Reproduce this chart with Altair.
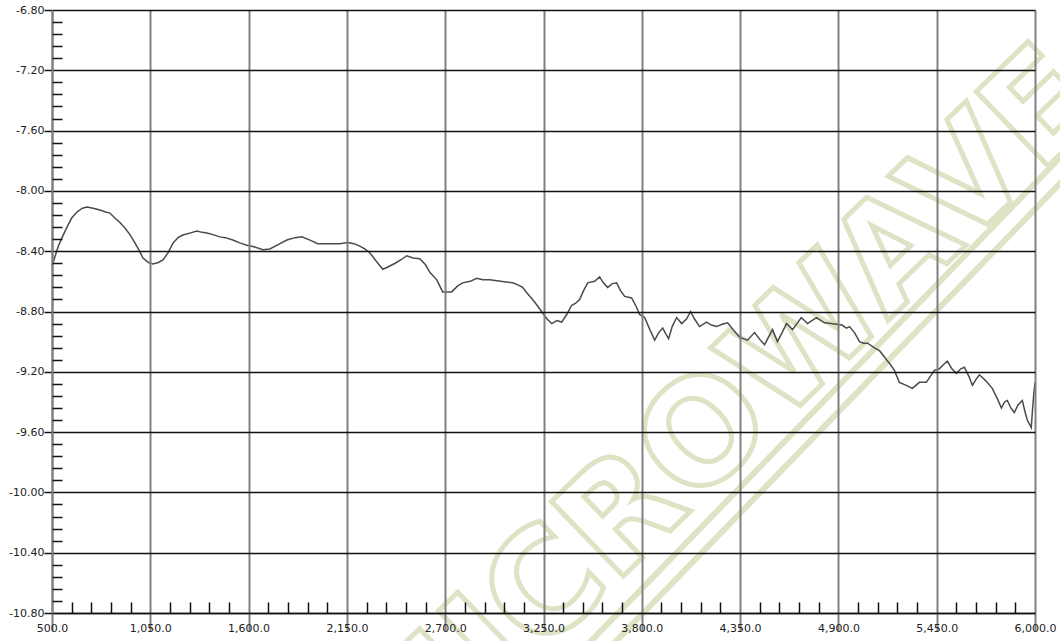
import altair as alt
import pandas as pd

# ---- data ----
freq = [500, 534, 560, 584, 610, 640, 670, 696, 730, 768, 800, 824, 852, 880, 908, 936, 964, 990,
        1009, 1040, 1065, 1095, 1121, 1150, 1177, 1205, 1232, 1270, 1311, 1340, 1367, 1400, 1439,
        1470, 1512, 1550, 1590, 1630, 1680, 1719, 1760, 1814, 1860, 1898, 1940, 1987, 2050, 2110,
        2155, 2190, 2222, 2250, 2278, 2310, 2351, 2379, 2420, 2455, 2485, 2520, 2558, 2590, 2614,
        2653, 2686, 2736, 2770, 2798, 2840, 2876, 2910, 2949, 3010, 3078, 3110, 3133, 3160, 3189,
        3215, 3245, 3270, 3296, 3325, 3352, 3380, 3407, 3430, 3452, 3475, 3497, 3536, 3564, 3585,
        3609, 3635, 3659, 3680, 3704, 3743, 3770, 3788, 3816, 3845, 3872, 3895, 3917, 3935, 3950,
        3970, 3995, 4023, 4050, 4073, 4095, 4123, 4162, 4190, 4218, 4250, 4280, 4310, 4347, 4391,
        4431, 4460, 4487, 4531, 4559, 4585, 4610, 4643, 4693, 4727, 4777, 4822, 4860, 4889, 4920,
        4945, 4962, 4990, 5018, 5040, 5063, 5100, 5130, 5150, 5169, 5190, 5213, 5241, 5280, 5314,
        5353, 5392, 5420, 5437, 5465, 5490, 5510, 5535, 5560, 5585, 5605, 5630, 5650, 5670, 5689,
        5725, 5761, 5790, 5812, 5830, 5845, 5865, 5884, 5905, 5929, 5945, 5957, 5979, 5985, 5993,
        6000]
value = [-8.50, -8.37, -8.30, -8.24, -8.18, -8.14, -8.115, -8.107, -8.115, -8.127, -8.14, -8.147,
         -8.18, -8.21, -8.246, -8.29, -8.345, -8.40, -8.445, -8.475, -8.485, -8.475, -8.458, -8.41,
         -8.346, -8.31, -8.293, -8.28, -8.266, -8.275, -8.28, -8.29, -8.305, -8.31, -8.326, -8.345,
         -8.36, -8.37, -8.39, -8.385, -8.36, -8.326, -8.31, -8.305, -8.325, -8.35, -8.35, -8.35,
         -8.342, -8.35, -8.366, -8.385, -8.41, -8.46, -8.52, -8.505, -8.48, -8.455, -8.43, -8.445,
         -8.45, -8.49, -8.54, -8.59, -8.67, -8.67, -8.63, -8.61, -8.60, -8.58, -8.59, -8.59, -8.60,
         -8.61, -8.625, -8.64, -8.68, -8.72, -8.76, -8.81, -8.85, -8.88, -8.86, -8.87, -8.82, -8.76,
         -8.745, -8.72, -8.66, -8.61, -8.60, -8.57, -8.61, -8.64, -8.615, -8.61, -8.66, -8.70,
         -8.71, -8.77, -8.82, -8.84, -8.92, -8.99, -8.94, -8.91, -8.95, -8.98, -8.90, -8.84, -8.88,
         -8.85, -8.80, -8.85, -8.90, -8.87, -8.89, -8.90, -8.885, -8.875, -8.92, -8.97, -8.99,
         -8.94, -8.985, -9.02, -8.92, -9.00, -8.94, -8.88, -8.92, -8.84, -8.88, -8.84, -8.875,
         -8.88, -8.885, -8.89, -8.91, -8.90, -8.94, -9.00, -9.01, -9.01, -9.04, -9.06, -9.09,
         -9.12, -9.15, -9.19, -9.27, -9.29, -9.31, -9.27, -9.27, -9.22, -9.19, -9.18, -9.15, -9.13,
         -9.18, -9.21, -9.18, -9.17, -9.23, -9.29, -9.25, -9.22, -9.26, -9.31, -9.38, -9.44, -9.40,
         -9.39, -9.44, -9.47, -9.42, -9.39, -9.47, -9.52, -9.57, -9.47, -9.35, -9.27]

x_major = [500, 1050, 1600, 2150, 2700, 3250, 3800, 4350, 4900, 5450, 6000]
y_major = [-10.8, -10.4, -10.0, -9.6, -9.2, -8.8, -8.4, -8.0, -7.6, -7.2, -6.8]
x_minor = [round(a + (b - a) * k / 5, 3) for a, b in zip(x_major[:-1], x_major[1:]) for k in range(1, 5)]
y_minor = [round(a + (b - a) * k / 5, 3) for a, b in zip(y_major[:-1], y_major[1:]) for k in range(1, 5)]
watermark = ["MICROWAVE"]

df = pd.DataFrame({"freq": freq, "value": value})

FONT = "DejaVu Sans"
WM = "#dfe3c6"
xscale = alt.Scale(domain=[500, 6000], nice=False, zero=False)
yscale = alt.Scale(domain=[-10.8, -6.8], nice=False, zero=False)

wm_df = pd.DataFrame({"t": watermark})

# watermark (decoration, behind everything)
wm_text = alt.Chart(wm_df).mark_text(
    angle=316, fontSize=142, font=FONT, fontWeight="bold", align="center", baseline="middle",
    fill="#ffffff", fillOpacity=0, stroke=WM, strokeWidth=5
).encode(text="t:N", x=alt.value(672), y=alt.value(409))

wm_band = alt.Chart(wm_df).mark_rule(color=WM, strokeWidth=24, strokeCap="butt").encode(
    x=alt.value(538), y=alt.value(645), x2=alt.value(1023), y2=alt.value(145))
wm_band_in = alt.Chart(wm_df).mark_rule(color="#ffffff", strokeWidth=12, strokeCap="butt").encode(
    x=alt.value(538), y=alt.value(645), x2=alt.value(1023), y2=alt.value(145))

line = alt.Chart(df).mark_line(color="#4a4a4a", strokeWidth=1.5).encode(
    x=alt.X("freq:Q", scale=xscale, axis=alt.Axis(
        values=x_major, labelExpr="format(datum.value, ',.1f')", title=None,
        grid=True, gridColor="#808080", gridWidth=2,
        domainColor="#111111", domainWidth=1.5,
        tickColor="#808080", tickWidth=2, tickSize=18, labelPadding=-9,
        labelFont=FONT, labelFontSize=11, labelColor="#222222", labelOverlap=False,
        labelFlush=False, zindex=1)),
    y=alt.Y("value:Q", scale=yscale, axis=alt.Axis(
        values=y_major, labelExpr="replace(format(datum.value, '.2f'), '\u2212', '-')", title=None,
        grid=True, gridColor="#111111", gridWidth=1.5,
        domainColor="#808080", domainWidth=2,
        tickColor="#111111", tickWidth=1.5, tickSize=8, labelPadding=0,
        labelFont=FONT, labelFontSize=11, labelColor="#222222", labelOverlap=False,
        labelFlush=False, zindex=1)),
)

minor = alt.Chart(df).mark_line(opacity=0).encode(
    x=alt.X("freq:Q", scale=xscale, axis=alt.Axis(
        values=x_minor, orient="bottom", labels=False, grid=False, domain=False, title=None,
        tickColor="#111111", tickWidth=1.5, tickSize=11, offset=-11, zindex=1)),
    y=alt.Y("value:Q", scale=yscale, axis=alt.Axis(
        values=y_minor, orient="left", labels=False, grid=False, domain=False, title=None,
        tickColor="#111111", tickWidth=1.5, tickSize=10, offset=-10, zindex=1)),
)

chart = alt.layer(wm_band, wm_band_in, wm_text, line, minor).resolve_axis(
    x="independent", y="independent").properties(
    width=983, height=603,
    autosize=alt.AutoSizeParams(type="none"),
    padding={"left": 52, "top": 10, "right": 25, "bottom": 28},
).configure_view(stroke=None).configure(background="white")

chart.save("out.html", embed_options={"renderer": "svg", "actions": False})
